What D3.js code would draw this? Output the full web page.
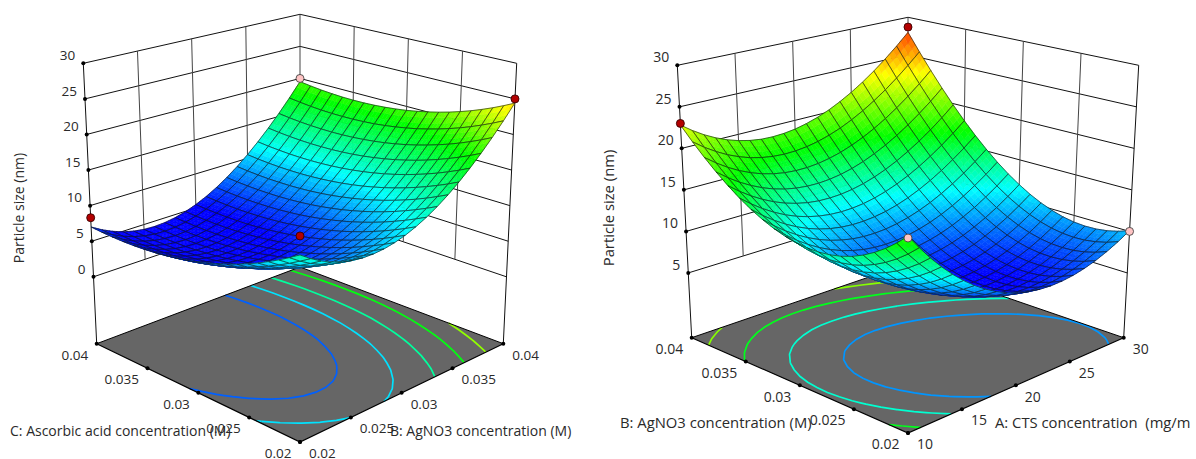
<!DOCTYPE html>
<html>
<head>
<meta charset="utf-8">
<script src="https://cdn.jsdelivr.net/npm/d3@7"></script>
<style>
  body { margin: 0; background: #fff; }
  text { font-family: "Open Sans", sans-serif; fill: #2a2a2a; }
</style>
</head>
<body>
<script>
// particle size: rows go front to left (C), columns front to right (B)
var leftSurface = [
  [14.00,13.05,12.25,11.61,11.12,10.79,10.61,10.59,10.72,11.01,11.45,12.05,12.80,13.71,14.77,15.99,17.36,18.89,20.57,22.41,24.40],
  [13.17,12.24,11.46,10.83,10.36,10.04,9.88,9.86,10.01,10.30,10.75,11.35,12.11,13.02,14.08,15.29,16.66,18.19,19.86,21.69,23.68],
  [12.39,11.48,10.71,10.10,9.65,9.34,9.18,9.18,9.33,9.64,10.09,10.70,11.46,12.37,13.43,14.64,16.01,17.53,19.20,21.03,23.00],
  [11.66,10.76,10.02,9.42,8.98,8.68,8.54,8.55,8.70,9.01,9.47,10.08,10.85,11.76,12.82,14.04,15.40,16.92,18.59,20.41,22.38],
  [10.98,10.10,9.37,8.79,8.35,8.07,7.94,7.95,8.12,8.43,8.90,9.52,10.28,11.20,12.26,13.48,14.84,16.36,18.02,19.84,21.80],
  [10.36,9.49,8.77,8.20,7.77,7.50,7.38,7.40,7.57,7.90,8.37,8.99,9.76,10.68,11.75,12.96,14.33,15.84,17.51,19.32,21.28],
  [9.78,8.92,8.21,7.65,7.24,6.98,6.86,6.89,7.07,7.40,7.88,8.51,9.28,10.20,11.27,12.49,13.86,15.37,17.04,18.85,20.81],
  [9.25,8.41,7.71,7.16,6.75,6.50,6.39,6.43,6.62,6.95,7.43,8.06,8.84,9.77,10.84,12.06,13.43,14.95,16.61,18.43,20.39],
  [8.78,7.94,7.25,6.71,6.31,6.06,5.96,6.01,6.20,6.54,7.03,7.67,8.45,9.38,10.46,11.68,13.05,14.57,16.24,18.05,20.02],
  [8.35,7.52,6.84,6.30,5.91,5.67,5.58,5.63,5.83,6.18,6.67,7.31,8.10,9.03,10.11,11.34,12.72,14.24,15.91,17.73,19.70],
  [7.97,7.15,6.47,5.94,5.56,5.32,5.24,5.29,5.50,5.85,6.35,7.00,7.79,8.73,9.82,11.05,12.43,13.96,15.63,17.46,19.42],
  [7.65,6.83,6.16,5.63,5.25,5.02,4.94,5.00,5.21,5.57,6.07,6.73,7.52,8.47,9.56,10.80,12.19,13.72,15.40,17.23,19.21],
  [7.38,6.56,5.89,5.37,4.99,4.77,4.69,4.75,4.97,5.33,5.84,6.50,7.30,8.25,9.35,10.60,11.99,13.53,15.22,17.05,19.04],
  [7.15,6.34,5.67,5.15,4.78,4.55,4.48,4.55,4.77,5.13,5.65,6.31,7.12,8.08,9.18,10.44,11.84,13.39,15.08,16.93,18.92],
  [6.98,6.16,5.50,4.98,4.61,4.39,4.31,4.39,4.61,4.98,5.50,6.17,6.98,7.95,9.06,10.32,11.73,13.29,14.99,16.85,18.85],
  [6.86,6.04,5.37,4.85,4.48,4.26,4.19,4.27,4.49,4.87,5.39,6.07,6.89,7.86,8.98,10.25,11.67,13.24,14.95,16.82,18.83],
  [6.78,5.96,5.29,4.77,4.40,4.18,4.11,4.19,4.42,4.80,5.33,6.01,6.84,7.82,8.95,10.22,11.65,13.23,14.96,16.84,18.86],
  [6.76,5.94,5.26,4.74,4.37,4.15,4.08,4.16,4.39,4.77,5.31,5.99,6.83,7.82,8.95,10.24,11.68,13.27,15.01,16.90,18.95],
  [6.79,5.96,5.28,4.76,4.38,4.16,4.09,4.17,4.41,4.79,5.33,6.02,6.86,7.86,9.00,10.30,11.76,13.36,15.11,17.02,19.08],
  [6.87,6.03,5.35,4.82,4.44,4.21,4.14,4.23,4.46,4.85,5.39,6.09,6.94,7.94,9.10,10.41,11.87,13.49,15.26,17.19,19.27],
  [7.00,6.15,5.46,4.92,4.54,4.31,4.24,4.32,4.56,4.95,5.50,6.20,7.06,8.07,9.24,10.56,12.04,13.67,15.46,17.40,19.50]
];

// same for the right surface: rows front to left (B), columns front to right (A)
var rightSurface = [
  [18.30,16.66,15.14,13.76,12.50,11.38,10.38,9.52,8.78,8.17,7.70,7.35,7.14,7.05,7.10,7.27,7.58,8.01,8.58,9.27,10.10],
  [17.16,15.57,14.11,12.78,11.57,10.49,9.54,8.71,8.02,7.45,7.01,6.70,6.51,6.46,6.53,6.72,7.05,7.50,8.09,8.79,9.63],
  [16.17,14.63,13.22,11.93,10.77,9.74,8.83,8.05,7.39,6.86,6.45,6.17,6.02,5.99,6.09,6.31,6.66,7.13,7.73,8.46,9.31],
  [15.32,13.83,12.47,11.23,10.11,9.12,8.26,7.51,6.89,6.40,6.03,5.78,5.66,5.66,5.78,6.03,6.40,6.90,7.51,8.26,9.13],
  [14.61,13.17,11.85,10.66,9.59,8.64,7.81,7.11,6.53,6.07,5.73,5.52,5.42,5.45,5.61,5.88,6.28,6.80,7.44,8.20,9.09],
  [14.04,12.65,11.38,10.23,9.20,8.29,7.51,6.84,6.30,5.87,5.57,5.39,5.33,5.39,5.57,5.87,6.29,6.84,7.50,8.29,9.19],
  [13.62,12.27,11.05,9.94,8.95,8.08,7.33,6.70,6.19,5.81,5.54,5.39,5.36,5.45,5.66,5.99,6.44,7.01,7.70,8.51,9.44],
  [13.35,12.04,10.85,9.78,8.83,8.00,7.29,6.70,6.23,5.87,5.64,5.52,5.52,5.65,5.89,6.25,6.73,7.33,8.04,8.88,9.84],
  [13.21,11.94,10.80,9.76,8.85,8.06,7.38,6.83,6.39,6.07,5.87,5.79,5.82,5.98,6.25,6.64,7.15,7.78,8.52,9.39,10.37],
  [13.22,11.99,10.88,9.88,9.01,8.25,7.61,7.09,6.68,6.40,6.23,6.18,6.25,6.44,6.74,7.16,7.71,8.37,9.14,10.04,11.05],
  [13.38,12.18,11.10,10.14,9.30,8.57,7.97,7.48,7.11,6.86,6.72,6.71,6.81,7.03,7.37,7.82,8.40,9.09,9.90,10.83,11.88],
  [13.67,12.51,11.46,10.54,9.73,9.03,8.46,8.01,7.67,7.45,7.35,7.37,7.50,7.76,8.13,8.62,9.23,9.95,10.80,11.76,12.84],
  [14.11,12.98,11.96,11.07,10.29,9.63,9.09,8.67,8.36,8.18,8.11,8.16,8.33,8.62,9.02,9.55,10.19,10.95,11.84,12.83,13.95],
  [14.70,13.59,12.60,11.74,10.99,10.36,9.85,9.46,9.18,9.03,9.00,9.08,9.29,9.61,10.05,10.61,11.29,12.09,13.01,14.05,15.21],
  [15.42,14.34,13.38,12.54,11.82,11.22,10.74,10.38,10.14,10.02,10.02,10.14,10.37,10.73,11.21,11.81,12.53,13.37,14.33,15.40,16.60],
  [16.29,15.24,14.30,13.49,12.79,12.22,11.77,11.44,11.23,11.14,11.17,11.32,11.60,11.99,12.51,13.14,13.90,14.78,15.78,16.90,18.14],
  [17.31,16.27,15.36,14.57,13.90,13.35,12.93,12.62,12.44,12.39,12.45,12.64,12.95,13.38,13.93,14.61,15.41,16.33,17.37,18.54,19.83],
  [18.47,17.45,16.55,15.79,15.14,14.62,14.22,13.95,13.80,13.77,13.87,14.09,14.43,14.90,15.50,16.21,17.05,18.02,19.11,20.32,21.66],
  [19.77,18.77,17.89,17.14,16.52,16.02,15.65,15.40,15.28,15.28,15.41,15.67,16.05,16.56,17.19,17.95,18.83,19.84,20.98,22.24,23.63],
  [21.21,20.22,19.37,18.63,18.03,17.55,17.21,16.99,16.89,16.93,17.09,17.38,17.80,18.34,19.02,19.82,20.75,21.81,22.99,24.30,25.74],
  [22.80,21.83,20.98,20.27,19.68,19.23,18.90,18.70,18.64,18.71,18.90,19.23,19.68,20.26,20.98,21.82,22.80,23.90,25.14,26.50,28.00]
];

var concTicks = [0.02, 0.025, 0.03, 0.035, 0.04];
var ctsTicks = [10, 15, 20, 25, 30];
var leftSizeTicks = [0, 5, 10, 15, 20, 25, 30];
var rightSizeTicks = [5, 10, 15, 20, 25, 30];
var leftLevels = [7.7, 10.8, 14, 17.6, 21.1];
var rightLevels = [9, 12.5, 16.4, 20.4];
// design points: a value, b value, particle size, 1 = above the surface
var leftPoints = [[0.02, 0.04, 8.3, 1], [0.04, 0.02, 25, 1], [0.04, 0.04, 20, 0], [0.03, 0.03, 6.4, 1]];
var rightPoints = [[30, 0.04, 28.7, 1], [10, 0.04, 23, 1], [10, 0.02, 18.1, 0], [30, 0.02, 10, 0]];

var svg = d3.select('body').append('svg').attr('width', 1196).attr('height', 459);

function drawPanel(opt) {
  var g = svg.append('g');
  var aScale = d3.scaleLinear().domain(d3.extent(opt.aTicks)).range([0, 1]);
  var bScale = d3.scaleLinear().domain(d3.extent(opt.bTicks)).range([0, 1]);
  var zScale = d3.scaleLinear().domain([opt.floorZ, 30]).range([0, 1]);
  var color = d3.scaleLinear().domain(opt.ramp).range(['#0000ff', '#00ffff', '#00ff00', '#ffff00', '#ff0000']);

  function corner(q, a, b) {
    return [0, 1].map(function(k) {
      return (1-a)*(1-b)*q.f[k] + a*(1-b)*q.r[k] + (1-a)*b*q.l[k] + a*b*q.k[k];
    });
  }
  // a: front to right, b: front to left, c: floor to top
  function project(a, b, c) {
    var lo = corner(opt.floor, a, b), hi = corner(opt.top, a, b);
    return [lo[0] + (hi[0]-lo[0])*c, lo[1] + (hi[1]-lo[1])*c];
  }
  function pt(a, b, z) { return project(a, b, zScale(z)); }
  var line = d3.line();

  // walls
  var lowZ = opt.zTicks[0];
  opt.zTicks.forEach(function(z) {
    g.append('path').attr('d', line([pt(0,1,z), pt(1,1,z), pt(1,0,z)]))
      .attr('fill', 'none').attr('stroke', '#111').attr('stroke-width', 1);
  });
  [0.25, 0.5, 0.75].forEach(function(t) {
    g.append('path').attr('d', line([pt(t,1,lowZ), pt(t,1,30)])).attr('stroke', '#444').attr('stroke-width', 1);
    g.append('path').attr('d', line([pt(1,t,lowZ), pt(1,t,30)])).attr('stroke', '#444').attr('stroke-width', 1);
  });
  g.append('path').attr('d', line([pt(1,1,lowZ), pt(1,1,30)])).attr('stroke', '#444').attr('stroke-width', 1);
  g.append('path').attr('d', line([pt(0,1,opt.floorZ), pt(0,1,30)])).attr('stroke', '#111').attr('stroke-width', 1);
  g.append('path').attr('d', line([pt(1,0,opt.floorZ), pt(1,0,30)])).attr('stroke', '#111').attr('stroke-width', 1);

  // floor and contours
  g.append('path').attr('d', line([pt(0,0,opt.floorZ), pt(1,0,opt.floorZ), pt(1,1,opt.floorZ), pt(0,1,opt.floorZ)]) + 'Z')
    .attr('fill', '#666').attr('stroke', 'none');
  var n = opt.surface.length;
  var flat = d3.merge(opt.surface);
  d3.contours().size([n, n]).thresholds(opt.levels)(flat).forEach(function(c) {
    c.coordinates.forEach(function(poly) {
      poly.forEach(function(ring) {
        // d3 closes the rings round the grid border, only draw the parts inside
        var run = [];
        function flush() {
          if (run.length > 1) {
            g.append('path').attr('d', line(run)).attr('fill', 'none')
              .attr('stroke', color(c.value)).attr('stroke-width', 1.7);
          }
          run = [];
        }
        ring.forEach(function(p) {
          if (p[0] < 0.5 || p[0] > n-0.5 || p[1] < 0.5 || p[1] > n-0.5) { flush(); return; }
          run.push(pt((p[0]-0.5)/(n-1), (p[1]-0.5)/(n-1), opt.floorZ));
        });
        flush();
      });
    });
  });
  g.append('path').attr('d', line([pt(0,1,opt.floorZ), pt(0,0,opt.floorZ), pt(1,0,opt.floorZ)]))
    .attr('fill', 'none').attr('stroke', '#000').attr('stroke-width', 1.2);
  g.append('path').attr('d', line([pt(0,1,opt.floorZ), pt(1,1,opt.floorZ), pt(1,0,opt.floorZ)]))
    .attr('fill', 'none').attr('stroke', '#000').attr('stroke-width', 1);

  // tick marks and labels
  function dot(p) { g.append('circle').attr('cx', p[0]).attr('cy', p[1]).attr('r', 2).attr('fill', '#000'); }
  function label(p, s, anchor, dx, dy) {
    g.append('text').attr('x', p[0]+dx).attr('y', p[1]+dy).attr('text-anchor', anchor)
      .attr('dy', '0.35em').attr('font-size', opt.tickSize).text(s);
  }
  opt.zTicks.forEach(function(z) {
    var p = pt(0,1,z); dot(p); label(p, z, 'end', -8, -8);
  });
  opt.bTicks.forEach(function(v) {
    var p = pt(0, bScale(v), opt.floorZ); dot(p); label(p, v, 'end', -8.5, 11.3);
  });
  opt.aTicks.forEach(function(v) {
    var p = pt(aScale(v), 0, opt.floorZ); dot(p); label(p, v, 'start', 9, 11.3);
  });

  // surface, far cells first
  var cells = [];
  d3.range(n-1).forEach(function(j) { d3.range(n-1).forEach(function(i) { cells.push([i, j]); }); });
  cells.sort(function(p, q) { return (q[0]+q[1]) - (p[0]+p[1]); });
  var sub = 3, u = n-1;
  cells.forEach(function(cell) {
    var i = cell[0], j = cell[1], s = opt.surface;
    var z00 = s[j][i], z10 = s[j][i+1], z01 = s[j+1][i], z11 = s[j+1][i+1];
    function zAt(x, y) { return (1-x)*(1-y)*z00 + x*(1-y)*z10 + (1-x)*y*z01 + x*y*z11; }
    function at(x, y) { return pt((i+x)/u, (j+y)/u, zAt(x, y)); }
    // each cell is split in a few flat patches for the colour bands
    d3.range(sub).forEach(function(sy) { d3.range(sub).forEach(function(sx) {
      var x0 = sx/sub, x1 = (sx+1)/sub, y0 = sy/sub, y1 = (sy+1)/sub;
      var c = color(zAt((x0+x1)/2, (y0+y1)/2));
      g.append('path').attr('d', line([at(x0,y0), at(x1,y0), at(x1,y1), at(x0,y1)]) + 'Z')
        .attr('fill', c).attr('stroke', c).attr('stroke-width', 0.5);
    }); });
    g.append('path').attr('d', line([at(0,0), at(1,0), at(1,1), at(0,1)]) + 'Z')
      .attr('fill', 'none').attr('stroke', '#111').attr('stroke-opacity', 0.8).attr('stroke-width', 0.75);
  });

  // design points
  opt.points.forEach(function(d) {
    var p = pt(aScale(d[0]), bScale(d[1]), d[2]);
    g.append('circle').attr('cx', p[0]).attr('cy', p[1]).attr('r', 4)
      .attr('fill', d[3] ? '#b30000' : '#ffc4c4').attr('stroke', d[3] ? '#3a0000' : '#444').attr('stroke-width', 0.9);
  });

  // titles
  g.append('text').attr('transform', 'translate(' + opt.zTitle[0] + ',' + opt.zTitle[1] + ') rotate(-90)')
    .attr('text-anchor', 'middle').attr('dy', '0.35em').attr('font-size', opt.titleSize).text('Particle size (nm)');
  g.append('text').attr('x', opt.bTitle[0]).attr('y', opt.bTitle[1]).attr('dy', '0.35em')
    .attr('font-size', opt.titleSize).text(opt.bName);
  g.append('text').attr('x', opt.aTitle[0]).attr('y', opt.aTitle[1]).attr('dy', '0.35em')
    .attr('font-size', opt.titleSize).style('white-space', 'pre').text(opt.aName);
}

drawPanel({
  surface: leftSurface, levels: leftLevels, points: leftPoints,
  aTicks: concTicks, bTicks: concTicks, zTicks: leftSizeTicks, floorZ: -9.4,
  ramp: [5.4, 11.5, 18, 23.5, 29], tickSize: 13.5, titleSize: 14,
  floor: {f: [300,442], r: [503.3,343.7], l: [96.7,343.7], k: [300,267]},
  top: {f: [300,127], r: [516.7,63.3], l: [83.3,63.3], k: [300,14.3]},
  zTitle: [19,208], bTitle: [10,431], aTitle: [390,431],
  bName: 'C: Ascorbic acid concentration (M)', aName: 'B: AgNO3 concentration (M)'
});
drawPanel({
  surface: rightSurface, levels: rightLevels, points: rightPoints,
  aTicks: ctsTicks, bTicks: concTicks, zTicks: rightSizeTicks, floorZ: -2.8,
  ramp: [5.5, 11.5, 17, 23.5, 29.5], tickSize: 14, titleSize: 14.8,
  floor: {f: [908,433], r: [1123.7,337.7], l: [691.7,337.7], k: [908,263.7]},
  top: {f: [908,127], r: [1138.7,65.3], l: [677.3,65.3], k: [908,17.3]},
  zTitle: [609,208], bTitle: [620,423], aTitle: [995,423],
  bName: 'B: AgNO3 concentration (M)', aName: 'A: CTS concentration  (mg/m'
});
</script>
</body>
</html>
